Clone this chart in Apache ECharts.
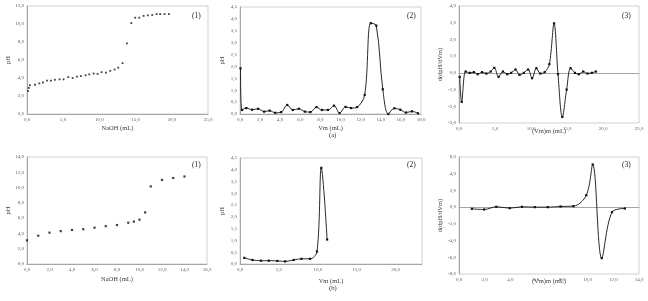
<!DOCTYPE html>
<html>
<head>
<meta charset="utf-8">
<script src="https://cdn.jsdelivr.net/npm/echarts@6/dist/echarts.min.js"></script>
<style>
  html, body { margin: 0; padding: 0; background: #fff; }
  #chart { width: 648px; height: 301px; }
</style>
</head>
<body>
<div id="chart"></div>
<script>
// (a) titration curve, pH vs NaOH
var a1X = [0.15, 0.25, 0.4, 1.1, 1.7, 2.2, 2.75, 3.3, 3.85, 4.5, 5.05, 5.7, 6.3, 6.9, 7.45, 8.1, 8.6, 9.2, 9.75, 10.3, 10.9, 11.5, 12.1, 12.6, 13.2, 13.8, 14.4, 14.95, 15.5, 16.1, 16.7, 17.3, 17.9, 18.4, 19.0, 19.6];
var a1Y = [2.55, 2.9, 3.2, 3.25, 3.4, 3.5, 3.7, 3.7, 3.8, 3.85, 3.85, 4.1, 4.0, 4.15, 4.2, 4.3, 4.4, 4.5, 4.45, 4.65, 4.6, 4.8, 4.95, 5.15, 5.65, 7.85, 10.1, 10.7, 10.7, 10.9, 10.95, 11.0, 11.1, 11.1, 11.1, 11.1];
// (a) first derivative
var a2X = [0.05, 0.2, 0.63, 1.2, 1.8, 2.4, 2.95, 3.5, 4.1, 4.7, 5.25, 5.85, 6.45, 7.0, 7.6, 8.15, 8.75, 9.35, 9.9, 10.5, 11.05, 11.65, 12.4, 13.0, 13.55, 14.2, 14.75, 15.35, 15.95, 16.5, 17.1, 17.7];
var a2Y = [1.92, 0.17, 0.25, 0.18, 0.22, 0.1, 0.14, 0.05, 0.08, 0.38, 0.17, 0.22, 0.1, 0.08, 0.29, 0.17, 0.17, 0.35, 0.04, 0.3, 0.25, 0.29, 0.8, 3.82, 3.72, 1.04, 0.0, 0.24, 0.18, 0.06, 0.11, 0.03];
// (a) second derivative
var a3X = [0.1, 0.37, 0.92, 1.5, 2.07, 2.6, 3.2, 3.8, 4.4, 4.9, 5.5, 6.1, 6.7, 7.25, 7.85, 8.4, 9.0, 9.6, 10.15, 10.75, 11.3, 11.9, 12.55, 13.2, 13.75, 14.35, 14.95, 15.5, 16.1, 16.65, 17.25, 17.85, 18.45, 19.0];
var a3Y = [-0.24, -1.74, 0.08, 0.0, 0.04, -0.08, 0.04, -0.04, 0.08, 0.3, -0.24, 0.08, -0.08, 0.0, 0.2, -0.12, 0.0, 0.2, -0.32, 0.28, -0.04, 0.04, 0.52, 2.96, -0.08, -2.64, -1.0, 0.28, 0.0, -0.08, 0.08, -0.04, 0.0, 0.08];
// (b) titration curve
var b1X = [0, 1, 2, 3, 4, 5, 6, 7, 8, 9, 9.5, 10, 10.5, 11, 12, 13, 14];
var b1Y = [3.1, 3.7, 4.1, 4.3, 4.45, 4.55, 4.75, 4.95, 5.1, 5.4, 5.55, 5.8, 6.75, 10.15, 11.0, 11.25, 11.45];
// (b) first derivative
var b2X = [0.55, 1.6, 2.7, 3.7, 4.8, 5.8, 6.9, 7.9, 9.0, 9.9, 10.45, 11.2];
var b2Y = [0.26, 0.17, 0.14, 0.14, 0.13, 0.11, 0.17, 0.22, 0.22, 0.53, 4.08, 1.04];
// (b) second derivative
var b3X = [1.0, 1.95, 2.9, 3.95, 4.9, 5.9, 6.9, 7.9, 8.9, 9.9, 10.4, 11.1, 11.9, 12.9];
var b3Y = [-0.2, -0.28, 0.04, -0.12, 0.04, 0.0, 0.0, 0.08, 0.12, 1.43, 5.1, -6.1, -0.6, -0.16];

var FONT = 'Liberation Serif';
var LBL = '#595959';

function pairs(xs, ys) {
  var out = [];
  for (var i = 0; i < xs.length; i++) out.push([xs[i], ys[i]]);
  return out;
}
function comma(v) {
  return v.toFixed(1).replace('.', ',');
}

var grids = [
  {left: 27, top: 6, width: 181, height: 108},
  {left: 240, top: 7, width: 181, height: 107},
  {left: 459, top: 6, width: 180, height: 117},
  {left: 27, top: 157, width: 180, height: 107},
  {left: 240, top: 158, width: 182, height: 106},
  {left: 459, top: 157, width: 180, height: 117}
];
grids.forEach(function (g) {
  g.show = true;
  g.borderColor = '#d0d0d0';
  g.borderWidth = 1;
  g.backgroundColor = 'transparent';
});

var nameStyle = {fontFamily: FONT, fontSize: 6.5, color: '#404040'};

function xAx(i, max, interval, name, gap, onlyMult) {
  return {
    type: 'value', gridIndex: i, min: 0, max: max, interval: interval,
    name: name, nameLocation: 'middle', nameGap: gap,
    nameTextStyle: nameStyle,
    axisLine: {show: true, lineStyle: {color: '#a6a6a6', width: 1}},
    axisTick: {show: false},
    splitLine: {show: false},
    axisLabel: {
      fontFamily: FONT, fontSize: 5, color: LBL, margin: 3,
      formatter: function (v) {
        if (onlyMult && Math.abs(v / onlyMult - Math.round(v / onlyMult)) > 1e-6) return '';
        return comma(v);
      }
    }
  };
}
// bottom-edge axis that only carries the title (for the panels whose x axis sits on zero)
function titleAx(i, max, name, gap) {
  return {
    type: 'value', gridIndex: i, min: 0, max: max, position: 'bottom',
    name: name, nameLocation: 'middle', nameGap: gap,
    nameTextStyle: nameStyle,
    axisLine: {show: false, onZero: false},
    axisTick: {show: false},
    axisLabel: {show: false},
    splitLine: {show: false}
  };
}
function yAx(i, min, max, interval, name) {
  return {
    type: 'value', gridIndex: i, min: min, max: max, interval: interval,
    name: name, nameLocation: 'middle', nameGap: 14, nameRotate: 90,
    nameTextStyle: nameStyle,
    axisLine: {show: true, onZero: false, lineStyle: {color: '#a6a6a6', width: 1}},
    axisTick: {show: false},
    splitLine: {show: false},
    axisLabel: {fontFamily: FONT, fontSize: 5, color: LBL, margin: 3, formatter: comma}
  };
}

var xAxes = [
  xAx(0, 25, 5, 'NaOH (mL)', 11),
  xAx(1, 18, 2, 'Vm (mL)', 11),
  xAx(2, 25, 5, '', 0),
  xAx(3, 16, 2, 'NaOH (mL)', 12),
  xAx(4, 23.4, 5, 'Vm (mL)', 14, 5),
  xAx(5, 14, 2, '', 0),
  titleAx(2, 25, '(Vm)m (mL)', 5),
  titleAx(5, 14, '(Vm)m (mL)', 4)
];
var yAxes = [
  yAx(0, 0, 12, 2, 'pH'),
  yAx(1, 0, 4.5, 0.5, 'pH'),
  yAx(2, -3, 4, 1, 'd(dpH/dVm)'),
  yAx(3, 0, 14, 2, 'pH'),
  yAx(4, 0, 4.5, 0.5, 'pH'),
  yAx(5, -8, 6, 2, 'd(dpH/dVm)')
];

function scatterS(i, xs, ys, size) {
  return {
    type: 'scatter', xAxisIndex: i, yAxisIndex: i,
    data: pairs(xs, ys), symbol: 'rect', symbolSize: size,
    itemStyle: {color: '#111'}, silent: true
  };
}
function lineS(i, xs, ys) {
  return {
    type: 'line', xAxisIndex: i, yAxisIndex: i,
    data: pairs(xs, ys), smooth: 0.35, symbol: 'rect', symbolSize: 2.2,
    lineStyle: {color: '#111', width: 0.9}, itemStyle: {color: '#111'},
    silent: true
  };
}

function tag(txt, x, y, size) {
  return {
    type: 'text', left: x, top: y,
    style: {text: txt, font: (size || 7.5) + 'px "' + FONT + '"', fill: '#262626'}
  };
}

var chart = echarts.init(document.getElementById('chart'), null, {renderer: 'canvas'});
chart.setOption({
  animation: false,
  grid: grids,
  xAxis: xAxes,
  yAxis: yAxes,
  series: [
    scatterS(0, a1X, a1Y, 1.8),
    lineS(1, a2X, a2Y),
    lineS(2, a3X, a3Y),
    scatterS(3, b1X, b1Y, 2.2),
    lineS(4, b2X, b2Y),
    lineS(5, b3X, b3Y)
  ],
  graphic: [
    tag('(1)', 192, 12),
    tag('(2)', 407, 12),
    tag('(3)', 622, 12),
    tag('(1)', 192, 161),
    tag('(2)', 407, 161),
    tag('(3)', 622, 161),
    tag('(a)', 329, 132, 6.5),
    tag('(b)', 329, 285, 6.5)
  ]
});
</script>
</body>
</html>
